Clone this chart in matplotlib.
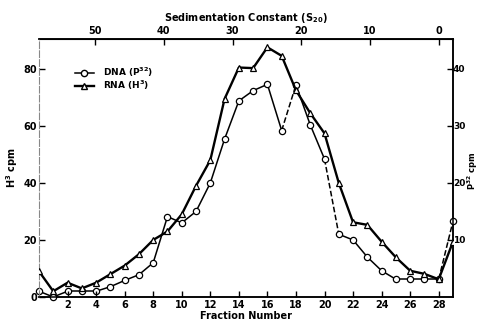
import numpy as np
import matplotlib
matplotlib.use("Agg")
import matplotlib.pyplot as plt
from matplotlib.lines import Line2D

# fraction numbers collected from the gradient
fractions = list(range(0, 30))

# RNA label, read on the left axis (H3 cpm)
rna_h3 = [9, 2, 5, 3, 5, 8, 11, 15, 20, 23, 29, 39, 48, 69.5, 80.5, 80.3, 87.6, 84.6,
          72.5, 64.5, 57.4, 40, 26.2, 25.3, 19.4, 13.9, 9.2, 8.1, 6.2, 19.4]

# DNA label, read on the right axis (P32 cpm)
dna_p32 = [1, 0, 1, 1, 1, 1.8, 2.9, 3.9, 6.0, 14.1, 13.0, 15.0, 20.0, 27.7, 34.4, 36.2,
           37.3, 29.2, 37.2, 30.2, 24.2, 11.0, 10.0, 7.0, 4.6, 3.1, 3.1, 3.1, 3.1, 13.3]
# segments (by start fraction) drawn dashed in the original
dna_dashed = [17, 20, 28]

left_ticks = [0, 20, 40, 60, 80]
right_ticks = [10, 20, 30, 40]
bottom_ticks = list(range(2, 29, 2))
top_ticks = [0, 10, 20, 30, 40, 50]

# fraction -> sedimentation constant (S20), 0 S sits at fraction 28
s_per_fraction = 2.077


def frac_to_s(f):
    return (28 - np.asarray(f)) * s_per_fraction


def s_to_frac(s):
    return 28 - np.asarray(s) / s_per_fraction


plt.rcParams['font.family'] = 'DejaVu Sans'
plt.rcParams['font.weight'] = 'bold'

fig = plt.figure(figsize=(4.79, 3.2), dpi=100)
ax = fig.add_axes([0.0814, 0.072, 0.8643, 0.806])

tick_kw = dict(direction='in', length=4.5, width=1, labelsize=7, color='black')

# RNA (triangles, heavy line) on left axis
ax.plot(fractions, rna_h3, color='black', lw=1.7, marker='^', ms=4.5,
        mfc='white', mec='black', mew=0.9, zorder=3)
ax.set_xlim(0, 29)
ax.set_ylim(0, 90.5)
ax.set_yticks(left_ticks)
ax.set_xticks(bottom_ticks)
ax.tick_params(axis='both', **tick_kw)
ax.tick_params(axis='x', pad=2)
ax.tick_params(axis='y', pad=1.5)
ax.set_xlabel('Fraction Number', fontsize=7, fontweight='bold', labelpad=1)
ax.set_ylabel('H$^3$ cpm', fontsize=7, fontweight='bold')
ax.yaxis.set_label_coords(-0.047, 0.5)
ax.spines['left'].set_color('#888888')
ax.spines['left'].set_linewidth(0.8)
ax.spines['left'].set_linestyle((0, (6, 2)))

# DNA (circles, light line) on right axis
ax2 = ax.twinx()
ax2.set_ylim(0, 45.25)
ax2.set_yticks(right_ticks)
ax2.tick_params(axis='y', **tick_kw)
ax2.tick_params(axis='y', pad=0, labelsize=6.5)
ax2.set_ylabel('P$^{32}$ cpm', fontsize=6, fontweight='bold', rotation=90)
ax2.yaxis.set_label_coords(1.031, 0.49)
for i in range(len(fractions) - 1):
    ls = '--' if fractions[i] in dna_dashed else '-'
    ax2.plot(fractions[i:i + 2], dna_p32[i:i + 2], color='black', lw=1.1, ls=ls, zorder=2)
ax2.plot(fractions, dna_p32, ls='none', marker='o', ms=4.5, mfc='white',
         mec='black', mew=0.9, zorder=4, clip_on=False)
ax.set_zorder(ax2.get_zorder() + 1)
ax.patch.set_visible(False)
for sp in ['top', 'right', 'bottom']:
    ax.spines[sp].set_linewidth(1.1)
    ax2.spines[sp].set_linewidth(1.1)
ax2.spines['left'].set_visible(False)

# sedimentation scale on top
sec = ax.secondary_xaxis('top', functions=(frac_to_s, s_to_frac))
sec.set_xticks(top_ticks)
sec.tick_params(axis='x', **tick_kw)
sec.tick_params(axis='x', pad=2)
sec.set_xlabel('Sedimentation Constant (S$_{20}$)', fontsize=7, fontweight='bold', labelpad=4)

for lab in ax.get_xticklabels() + ax.get_yticklabels() + ax2.get_yticklabels() + sec.get_xticklabels():
    lab.set_fontweight('bold')

handles = [
    Line2D([], [], color='black', lw=1.1, marker='o', ms=4.5, mfc='white', mec='black'),
    Line2D([], [], color='black', lw=1.7, marker='^', ms=4.5, mfc='white', mec='black'),
]
ax.legend(handles, ['DNA (P$^{32}$)', 'RNA (H$^3$)'], loc='upper left',
          bbox_to_anchor=(0.075, 0.915), frameon=False, fontsize=6.5,
          handlelength=2.2, labelspacing=0.0, handletextpad=1.0, borderpad=0)

fig.savefig('out.png', dpi=100)
